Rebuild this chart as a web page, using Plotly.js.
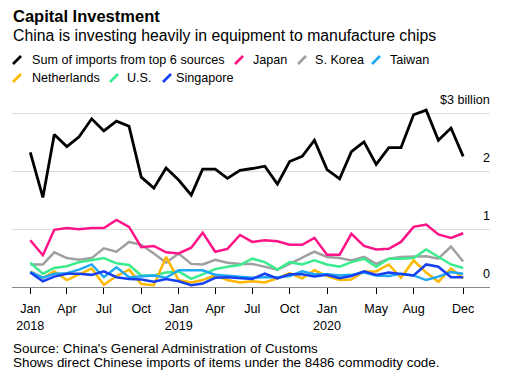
<!DOCTYPE html>
<html>
<head>
<meta charset="utf-8">
<script src="https://cdn.plot.ly/plotly-3.0.1.min.js"></script>
<style>html,body{margin:0;padding:0;background:#fff;}#chart{width:506px;height:381px;}</style>
</head>
<body>
<div id="chart"></div>
<script>
const months = ['2018-01','2018-02','2018-03','2018-04','2018-05','2018-06','2018-07','2018-08','2018-09','2018-10','2018-11','2018-12',
  '2019-01','2019-02','2019-03','2019-04','2019-05','2019-06','2019-07','2019-08','2019-09','2019-10','2019-11','2019-12',
  '2020-01','2020-02','2020-03','2020-04','2020-05','2020-06','2020-07','2020-08','2020-09','2020-10','2020-11','2020-12'];

const sumTop6 = [2.33,1.55,2.64,2.43,2.60,2.91,2.70,2.87,2.78,1.90,1.71,2.06,
  1.85,1.59,2.04,2.04,1.88,2.02,2.05,2.09,1.78,2.17,2.26,2.54,
  2.03,1.87,2.34,2.51,2.12,2.41,2.41,2.98,3.06,2.54,2.75,2.26];
const japan = [0.81,0.55,0.99,1.02,1.00,1.02,1.02,1.16,1.04,0.69,0.71,0.60,
  0.58,0.68,0.94,0.61,0.66,0.90,0.78,0.81,0.79,0.73,0.73,0.85,
  0.56,0.56,0.92,0.71,0.65,0.66,0.78,1.04,1.08,0.91,0.85,0.93];
const sKorea = [0.39,0.39,0.60,0.50,0.47,0.50,0.67,0.61,0.78,0.73,0.58,0.42,
  0.58,0.40,0.39,0.47,0.42,0.40,0.40,0.35,0.30,0.40,0.50,0.61,
  0.52,0.50,0.46,0.52,0.40,0.49,0.52,0.53,0.53,0.49,0.70,0.44];
const taiwan = [0.26,0.16,0.23,0.24,0.30,0.39,0.17,0.34,0.17,0.18,0.20,0.16,
  0.29,0.29,0.29,0.21,0.19,0.17,0.16,0.17,0.17,0.19,0.27,0.22,
  0.22,0.20,0.21,0.25,0.20,0.19,0.23,0.20,0.12,0.18,0.26,0.23];
const netherlands = [0.27,0.16,0.27,0.12,0.22,0.32,0.04,0.19,0.30,0.05,0.03,0.52,
  0.12,0.08,0.12,0.20,0.12,0.08,0.10,0.08,0.15,0.24,0.15,0.29,
  0.19,0.12,0.13,0.27,0.27,0.39,0.16,0.46,0.25,0.09,0.32,0.15];
const us = [0.42,0.23,0.33,0.36,0.43,0.46,0.50,0.41,0.38,0.20,0.20,0.25,
  0.27,0.14,0.22,0.31,0.35,0.38,0.49,0.43,0.30,0.43,0.39,0.46,
  0.39,0.35,0.43,0.49,0.35,0.49,0.49,0.50,0.65,0.52,0.39,0.33];
const singapore = [0.25,0.10,0.18,0.23,0.23,0.21,0.27,0.17,0.14,0.13,0.09,0.14,
  0.10,0.03,0.06,0.16,0.17,0.16,0.14,0.23,0.15,0.22,0.22,0.18,
  0.21,0.15,0.19,0.27,0.21,0.25,0.23,0.20,0.39,0.35,0.17,0.17];

const xTickVals = ['2018-01','2018-04','2018-07','2018-10','2019-01','2019-04','2019-07','2019-10','2020-01','2020-05','2020-08','2020-12'];
const xTickText = ['Jan<br>2018','Apr','Jul','Oct','Jan<br>2019','Apr','Jul','Oct','Jan<br>2020','May','Aug','Dec'];
const yTickVals = [0,1,2,3];
const yTickText = ['0','1','2','$3 billion'];

const seriesNames = ['S. Korea','U.S.','Netherlands','Taiwan','Singapore','Japan','Sum of imports from top 6 sources'];
const seriesData = [sKorea, us, netherlands, taiwan, singapore, japan, sumTop6];
const colors = {'Sum of imports from top 6 sources':'#000000','Japan':'#ff1488','S. Korea':'#a0a0a0','Taiwan':'#1fa8f5',
  'Netherlands':'#ffb800','U.S.':'#3deb8f','Singapore':'#1640f2'};

const FONT = 'Liberation Sans, Arial, Helvetica, sans-serif';
const W = 506, H = 381;
const M = {l:12, r:16, t:95, b:94};
const PW = W - M.l - M.r, PH = H - M.t - M.b;
const px = x => (x - M.l) / PW;
const py = y => (H - M.b - y) / PH;

const traces = seriesNames.map((n, i) => ({
  type: 'scatter', mode: 'lines', name: n, x: months, y: seriesData[i],
  line: {color: colors[n], width: n.startsWith('Sum') ? 2.8 : 2.5},
  cliponaxis: false, hoverinfo: 'skip'
}));

const legendRows = [
  {name:'Sum of imports from top 6 sources', sx:13, tx:30.5, y:60},
  {name:'Japan', sx:235, tx:251.5, y:60},
  {name:'S. Korea', sx:298, tx:313.5, y:60},
  {name:'Taiwan', sx:372, tx:388.5, y:60},
  {name:'Netherlands', sx:13, tx:30.5, y:78},
  {name:'U.S.', sx:110, tx:126, y:78},
  {name:'Singapore', sx:163, tx:175, y:78}
];

const annotations = [
  {text:'<b>Capital Investment</b>', x:px(11), y:py(16), xanchor:'left', yanchor:'middle', font:{size:16.5, color:'#000', family:FONT}},
  {text:'China is investing heavily in equipment to manufacture chips', x:px(11), y:py(35.5), xanchor:'left', yanchor:'middle', font:{size:15.8, color:'#000', family:FONT}},
  {text:"Source: China's General Administration of Customs", x:px(11), y:py(348), xanchor:'left', yanchor:'middle', font:{size:13.4, color:'#000', family:FONT}},
  {text:'Shows direct Chinese imports of items under the 8486 commodity code.', x:px(11), y:py(362), xanchor:'left', yanchor:'middle', font:{size:13.4, color:'#000', family:FONT}}
];
annotations.forEach(a => { a.xref = 'paper'; a.yref = 'paper'; });
// y-axis labels sitting above their gridlines at the right edge
yTickVals.forEach((v, i) => {
  annotations.push({text: yTickText[i], xref:'paper', x:px(492), xanchor:'right', yref:'y', y:v, yanchor:'bottom',
    yshift: 4.5, font:{size:12.6, color:'#000', family:FONT}});
});
const shapes = [];
legendRows.forEach(r => {
  annotations.push({text:r.name, xref:'paper', yref:'paper', x:px(r.tx - 1), y:py(r.y), xanchor:'left', yanchor:'middle', font:{size:12.6, color:'#000', family:FONT}});
  shapes.push({type:'line', xref:'paper', yref:'paper', x0:px(r.sx), y0:py(r.y + 4), x1:px(r.sx + 8), y1:py(r.y - 4),
    line:{color:colors[r.name], width:2.6}});
});
annotations.forEach(a => { a.showarrow = false; });

const layout = {
  width: W, height: H, margin: M, showlegend: false,
  paper_bgcolor: '#fff', plot_bgcolor: '#fff',
  font: {family: FONT, color: '#000', size: 12.6},
  xaxis: {
    type: 'date', range: ['2017-11-17', '2021-02-05'],
    tickvals: xTickVals, ticktext: xTickText, tickangle: 0,
    ticks: 'outside', ticklen: 6, tickwidth: 1, tickcolor: '#000',
    ticklabelstandoff: 4,
    showline: true, linecolor: '#888', linewidth: 1.3,
    showgrid: false, zeroline: false,
    tickfont: {size: 12.6, color: '#000', family: FONT}
  },
  yaxis: {
    range: [0, PH / 57.8], side: 'right',
    tickvals: yTickVals, showticklabels: false, ticks: '',
    showgrid: true, gridcolor: '#dcdcdc', gridwidth: 1,
    zeroline: false, showline: false
  },
  annotations: annotations, shapes: shapes
};

Plotly.newPlot('chart', traces, layout, {displayModeBar: false, staticPlot: true});
</script>
</body>
</html>
